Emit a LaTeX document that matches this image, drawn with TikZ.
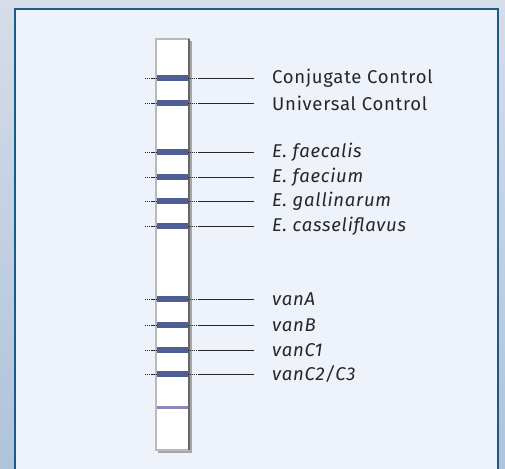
\documentclass[tikz,border=0pt]{standalone}
\usepackage{fontspec}
\setmainfont{Fira Sans}[LetterSpace=4]
\usetikzlibrary{positioning}

\definecolor{bgtop}{HTML}{D6DDE8}
\definecolor{bgbottom}{HTML}{AFC3DB}
\definecolor{panelfill}{HTML}{EEF2FA}
\definecolor{panelline}{HTML}{1C5A88}
\definecolor{bandblue}{HTML}{4F5F96}
\definecolor{bandlilac}{HTML}{8E86BA}
\definecolor{labelgray}{HTML}{262626}

\begin{document}
\begin{tikzpicture}
  [x=1pt,y=-1pt,
   band/.style={rectangle,inner sep=0pt,minimum width=31pt,minimum height=6pt,fill=bandblue},
   lbl/.style={anchor=west,inner sep=0pt,text=labelgray,font=\fontsize{18.5}{21}\selectfont},
   dots/.style={labelgray,line width=0.9pt,dash pattern=on 1.2pt off 0.9pt}]
  \useasboundingbox (0,0) rectangle (505,468);
  % background and panel
  \shade[top color=bgtop,bottom color=bgbottom] (0,0) rectangle (505,468);
  \fill[panelfill] (15,9) rectangle (498,470);
  \draw[panelline,line width=2pt] (15,470) -- (15,9) -- (498,9) -- (498,470);

  % test strip
  \fill[gray!70] (158,41) rectangle (192,453);
  \draw[fill=white,draw=gray!55,line width=1.5pt] (156,39) rectangle (189,450);
  \draw[gray!80!black,line width=1.2pt] (189,39) -- (189,450);
  \node[band,fill=bandlilac,minimum height=3pt] (ctl) at (172,407) {};

  % bands and labels
  \foreach \y/\name/\txt in
  {78/conj/Conjugate Control, 103/univ/Universal Control,
   152/efs/\textit{E. faecalis}, 177/efm/\textit{E. faecium},
   201/egal/\textit{E. gallinarum}, 226/ecas/\textit{E. casseliflavus},
   299/vana/\textit{vanA}, 325/vanb/\textit{vanB},
   350/vanci/\textit{vanC1}, 374/vancii/\textit{vanC2/C3}}
  {
    \coordinate (\name-l) at (145,\y);
    \node[band] (\name) at (172,\y) {};
    \coordinate (\name-s) at (198,\y);
    \coordinate (\name-e) at (254,\y);
    \node[lbl] (\name-t) at (272,\y) {\txt};
    \draw[dots] (\name-l) -- (\name.west);
    \draw[dots] (\name.east) -- (\name-s);
    \draw[labelgray,line width=0.9pt] (\name-s) -- (\name-e);
  }
\end{tikzpicture}
\end{document}
